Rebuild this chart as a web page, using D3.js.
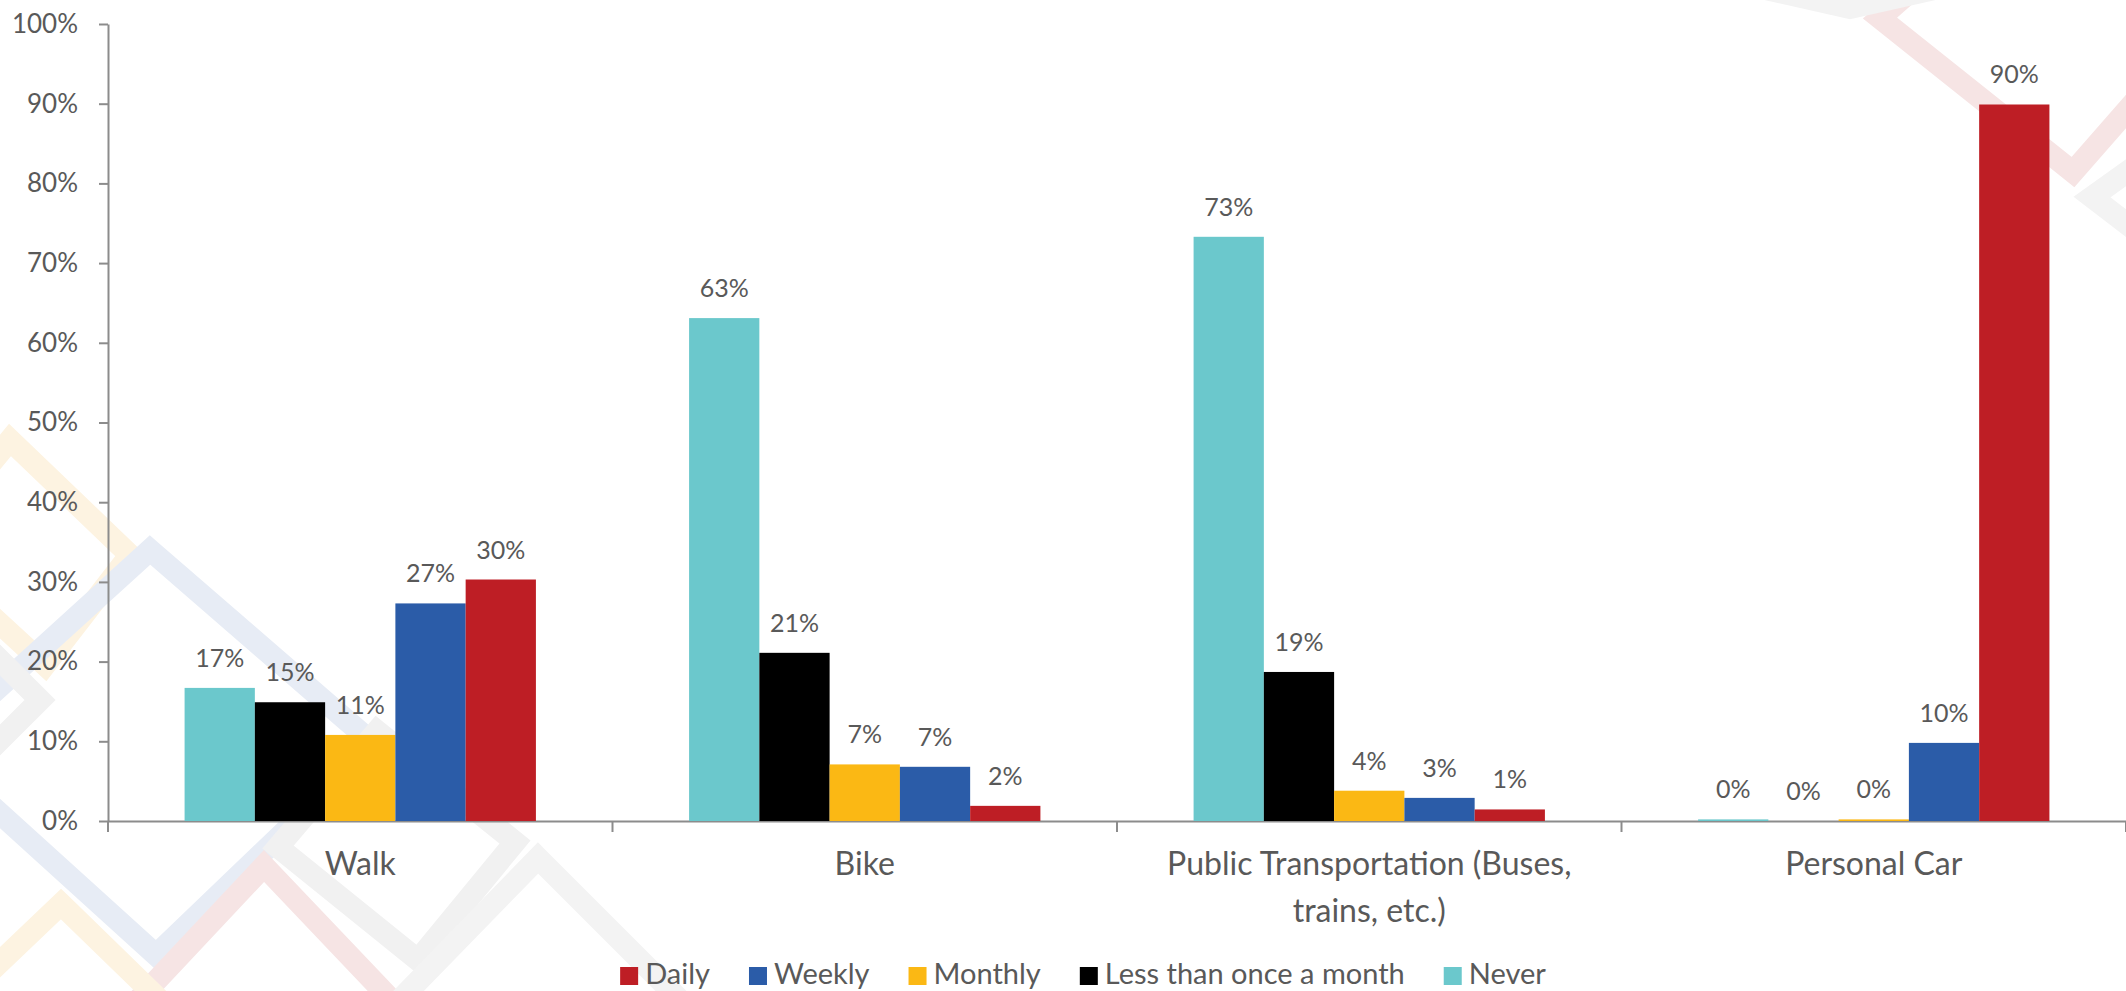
<!DOCTYPE html>
<html lang="en">
<head>
  <meta charset="UTF-8">
  <title>Transportation frequency</title>
  <style>
      body { margin: 0; background: #fff; }
      text { font-family: Lato, "Open Sans", sans-serif; fill: #595959; }
      .axis path, .axis line { stroke: #8c8c8c; stroke-width: 2; }
      .axis text { font-size: 26px; fill: #595959; }
  </style>
</head>
<body>
<div id="chart"></div>
<script src="https://d3js.org/d3.v7.min.js"></script>
<script>
  const categories = ["Walk", "Bike", "Public Transportation (Buses, trains, etc.)", "Personal Car"];
  // series in bar order (left to right inside each group)
  const seriesNames = ["Never", "Less than once a month", "Monthly", "Weekly", "Daily"];
  const legendOrder = ["Daily", "Weekly", "Monthly", "Less than once a month", "Never"];
  const seriesColors = ["#6bc8cc", "#000000", "#fbb814", "#2b5ca8", "#be1e25"];

  const never   = [16.7, 63.1, 73.3, 0.2];
  const lessMonthly = [14.9, 21.1, 18.7, 0];
  const monthly = [10.8, 7.1, 3.8, 0.2];
  const weekly  = [27.3, 6.8, 2.9, 9.8];
  const daily   = [30.3, 1.9, 1.45, 89.9];
  const yTicks = [0, 10, 20, 30, 40, 50, 60, 70, 80, 90, 100];

  const values = [never, lessMonthly, monthly, weekly, daily];

  const W = 2126, H = 991;
  const margin = {top: 24, right: 0, bottom: 170, left: 108};
  const width = W - margin.left - margin.right;
  const height = H - margin.top - margin.bottom;

  const root = d3.select("#chart").append("svg")
    .attr("width", W)
    .attr("height", H);

  // faint background pattern (decoration only)
  const deco = root.append("g")
    .attr("fill", "none")
    .attr("stroke-width", 22)
    .attr("stroke-linejoin", "miter");
  const decoShapes = [
    {c: "#fdf3e1", p: [[10, 440], [130, 555], [45, 665], [-80, 550]]},
    {c: "#e7ecf5", p: [[150, 550], [375, 745], [156, 955], [-70, 750]]},
    {c: "#f1f1f1", p: [[377, 731], [515, 842], [418, 960], [278, 847]]},
    {c: "#f6e4e4", p: [[264, 866], [420, 1030], [264, 1190], [110, 1030]]},
    {c: "#f3f3f3", p: [[538, 858], [690, 1010], [538, 1160], [390, 1010]]},
    {c: "#fdf3e1", p: [[61, 904], [170, 1010], [61, 1120], [-50, 1010]]},
    {c: "#f1f1f1", p: [[-40, 620], [40, 700], [-40, 780], [-120, 700]]},
    {c: "#f6e4e4", p: [[2060, -140], [2215, 10], [2073, 172], [1880, 18]]},
    {c: "#f3f3f3", p: [[2200, 120], [2280, 197], [2200, 280], [2092, 197]]},
    {c: "#f3f3f3", p: [[1850, -90], [1930, -10], [1850, 8], [1770, -10]]}
  ];
  deco.selectAll("polygon")
    .data(decoShapes)
    .enter().append("polygon")
    .attr("stroke", d => d.c)
    .attr("points", d => d.p.map(q => q.join(",")).join(" "));

  const svg = root.append("g")
    .attr("transform", `translate(${margin.left},${margin.top})`);

  const x0 = d3.scaleBand()
    .domain(categories)
    .range([0, width])
    .padding(0);

  const x1 = d3.scaleBand()
    .domain(seriesNames)
    .range([0, x0.bandwidth()])
    .paddingInner(0)
    .paddingOuter(1.09);

  const y = d3.scaleLinear()
    .domain([0, 100])
    .range([height, 0]);

  const color = d3.scaleOrdinal()
    .domain(seriesNames)
    .range(seriesColors);

  // y axis
  svg.append("g")
    .attr("class", "axis y-axis")
    .call(d3.axisLeft(y)
      .tickValues(yTicks)
      .tickSize(9)
      .tickPadding(21)
      .tickSizeOuter(0)
      .tickFormat(d => d + "%"));

  // x axis baseline + labels
  const xAxis = svg.append("g")
    .attr("class", "axis x-axis")
    .attr("transform", `translate(0,${height})`)
    .call(d3.axisBottom(x0).tickSize(0).tickSizeOuter(0).tickPadding(0));

  xAxis.selectAll(".tick text")
    .style("font-size", "32px")
    .attr("y", 0)
    .attr("dy", 0)
    .each(function(d) {
      const t = d3.select(this);
      const words = d.split(" ");
      t.text(null);
      let line = [];
      let lineNo = 0;
      let tspan = t.append("tspan").attr("x", 0).attr("y", 54);
      words.forEach(w => {
        line.push(w);
        tspan.text(line.join(" "));
        if (tspan.node().getComputedTextLength() > 440 && line.length > 1) {
          line.pop();
          tspan.text(line.join(" "));
          line = [w];
          lineNo++;
          tspan = t.append("tspan").attr("x", 0).attr("y", 54 + lineNo * 47).text(w);
        }
      });
    });

  // category boundary ticks
  const bounds = categories.map(c => x0(c)).concat([width]);
  svg.append("g")
    .attr("class", "axis")
    .selectAll("line")
    .data(bounds)
    .enter().append("line")
    .attr("x1", d => d)
    .attr("x2", d => d)
    .attr("y1", height)
    .attr("y2", height + 11);

  // bars
  const rows = [];
  categories.forEach((c, ci) => {
    seriesNames.forEach((s, si) => {
      rows.push({cat: c, series: s, value: values[si][ci]});
    });
  });

  const groups = svg.append("g").selectAll("g")
    .data(categories)
    .enter().append("g")
    .attr("transform", d => `translate(${x0(d)},0)`);

  groups.selectAll("rect")
    .data(c => rows.filter(r => r.cat === c))
    .enter().append("rect")
    .attr("x", d => x1(d.series))
    .attr("width", x1.bandwidth())
    .attr("y", d => y(d.value))
    .attr("height", d => height - y(d.value))
    .attr("fill", d => color(d.series));

  groups.selectAll("text.label")
    .data(c => rows.filter(r => r.cat === c))
    .enter().append("text")
    .attr("class", "label")
    .attr("x", d => x1(d.series) + x1.bandwidth() / 2)
    .attr("y", d => y(d.value) - 21)
    .attr("text-anchor", "middle")
    .style("font-size", "25px")
    .text(d => Math.round(d.value) + "%");

  // legend
  const legend = root.append("g");
  let cursor = 0;
  legendOrder.forEach(name => {
    const item = legend.append("g").attr("transform", `translate(${cursor},0)`);
    item.append("rect")
      .attr("x", 0)
      .attr("y", 967)
      .attr("width", 18)
      .attr("height", 18)
      .attr("fill", color(name));
    const t = item.append("text")
      .attr("x", 25)
      .attr("y", 984)
      .style("font-size", "29px")
      .text(name);
    cursor += 25 + t.node().getComputedTextLength() + 39;
  });
  const legendWidth = cursor - 39;
  legend.attr("transform", `translate(${1083 - legendWidth / 2},0)`);
</script>
</body>
</html>
